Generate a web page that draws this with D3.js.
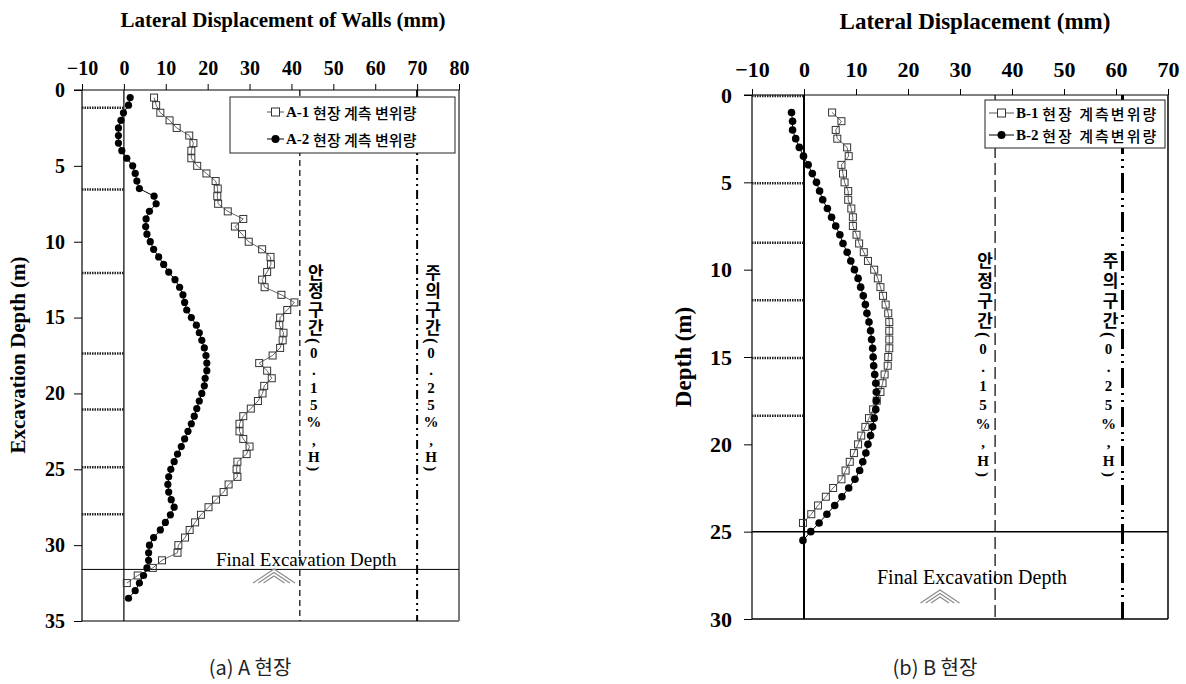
<!DOCTYPE html>
<html>
<head>
<meta charset="utf-8">
<script src="https://cdn.jsdelivr.net/npm/d3@7"></script>
<style>
body { margin: 0; background: #fff; }
svg text { font-family: "Liberation Serif", "Times New Roman", serif; }
</style>
</head>
<body>
<svg id="chart" width="1186" height="684"></svg>
<script>
// ---- site A ----
var depthA1 = [0.5,1.0,1.5,2.0,2.5,3.0,3.5,4.0,4.5,5.0,5.5,6.0,6.5,7.0,7.5,8.0,8.5,9.0,9.5,10.0,
	10.5,11.0,11.5,12.0,12.5,13.0,13.5,14.0,14.5,15.0,15.5,16.0,16.5,17.0,17.5,18.0,18.5,19.0,19.5,20.0,
	20.5,21.0,21.5,22.0,22.5,23.0,23.5,24.0,24.5,25.0,25.5,26.0,26.5,27.0,27.5,28.0,28.5,29.0,29.5,30.0,
	30.5,31.0,31.5,32.0,32.5];
var dispA1 = [7.2,7.7,8.7,10.9,12.6,15.6,16.6,16.1,16.1,17.5,19.7,21.9,22.4,22.3,22.5,24.8,28.5,26.5,28.2,29.8,
	33.0,35.0,35.1,34.2,33.0,33.6,37.6,40.7,39.0,37.3,37.1,38.1,37.9,37.3,35.5,32.3,34.2,35.3,33.5,33.1,
	32.0,30.3,28.5,27.6,27.6,28.5,30.0,29.3,27.1,26.9,27.1,25.0,23.8,22.0,20.2,18.4,17.0,15.7,14.6,13.0,
	12.8,9.1,6.9,3.3,0.7];
var depthA2 = [0.5,1.0,1.5,2.0,2.5,3.0,3.5,4.0,4.5,5.0,5.5,6.0,6.5,7.0,7.5,8.0,8.5,9.0,9.5,10.0,
	10.5,11.0,11.5,12.0,12.5,13.0,13.5,14.0,14.5,15.0,15.5,16.0,16.5,17.0,17.5,18.0,18.5,19.0,19.5,20.0,
	20.5,21.0,21.5,22.0,22.5,23.0,23.5,24.0,24.5,25.0,25.5,26.0,26.5,27.0,27.5,28.0,28.5,29.0,29.5,30.0,
	30.5,31.0,31.5,32.0,32.5,33.0,33.5];
var dispA2 = [1.5,1.1,-0.1,-0.7,-1.3,-1.3,-1.3,-0.5,0.7,2.1,2.7,3.1,3.7,7.2,7.7,6.1,5.3,5.2,5.5,6.3,
	7.1,8.3,9.5,10.7,12.2,13.3,14.1,14.5,15.0,16.1,17.3,18.0,18.6,19.2,19.6,19.8,19.8,19.4,19.2,18.6,
	18.0,17.4,16.8,16.1,15.3,14.5,13.7,12.8,12.0,11.2,10.7,10.5,10.7,11.3,12.0,11.1,9.9,8.7,7.1,6.1,
	5.9,5.9,5.5,4.7,3.7,2.7,1.1];
var strutA = [1.1, 6.5, 12.0, 17.3, 21.0, 24.8, 27.9];
var xTicksA = [-10, 0, 10, 20, 30, 40, 50, 60, 70, 80];
var yTicksA = [0, 5, 10, 15, 20, 25, 30, 35];
var finalDepthA = 31.6;
var limitsA = [42, 70];

// ---- site B ----
var depthB1 = [1.0,1.5,2.0,2.5,3.0,3.5,4.0,4.5,5.0,5.5,6.0,6.5,7.0,7.5,8.0,8.5,9.0,9.5,10.0,10.5,
	11.0,11.5,12.0,12.5,13.0,13.5,14.0,14.5,15.0,15.5,16.0,16.5,17.0,17.5,18.0,18.5,19.0,19.5,20.0,20.5,
	21.0,21.5,22.0,22.5,23.0,23.5,24.0,24.5];
var dispB1 = [5.4,7.2,6.1,6.4,8.3,8.6,7.2,7.5,7.8,8.5,8.5,9.1,9.4,9.4,10.1,10.6,11.5,12.3,13.5,14.2,
	14.7,15.2,15.7,16.2,16.4,16.4,16.4,16.4,16.2,16.1,15.5,15.1,14.7,14.0,13.3,12.5,11.8,11.0,10.4,9.6,
	8.8,8.0,7.2,5.6,4.2,2.7,1.4,-0.2];
var depthB2 = [1.0,1.5,2.0,2.5,3.0,3.5,4.0,4.5,5.0,5.5,6.0,6.5,7.0,7.5,8.0,8.5,9.0,9.5,10.0,10.5,
	11.0,11.5,12.0,12.5,13.0,13.5,14.0,14.5,15.0,15.5,16.0,16.5,17.0,17.5,18.0,18.5,19.0,19.5,20.0,20.5,
	21.0,21.5,22.0,22.5,23.0,23.5,24.0,24.5,25.0,25.5];
var dispB2 = [-2.4,-2.2,-2.2,-1.6,-0.9,-0.1,0.8,1.6,2.4,3.0,3.6,4.5,5.3,6.1,6.9,7.5,8.3,9.0,9.7,10.4,
	10.9,11.4,11.8,12.1,12.5,12.8,13.0,13.2,13.3,13.4,13.6,13.8,13.9,13.9,13.8,13.5,13.2,12.8,12.3,11.9,
	11.3,10.7,9.8,8.6,7.3,5.9,4.4,2.9,1.3,-0.2];
var strutB = [0, 5.0, 8.4, 11.7, 15.0, 18.3];
var xTicksB = [-10, 0, 10, 20, 30, 40, 50, 60, 70];
var yTicksB = [0, 5, 10, 15, 20, 25, 30];
var finalDepthB = 25;
var limitsB = [36.75, 61.25];

var labelSafe = ["안","정","구","간","(","0",".","1","5","%",",","H",")"];
var labelWarn = ["주","의","구","간","(","0",".","2","5","%",",","H",")"];

var svg = d3.select("#chart");
var KR = "'Noto Sans CJK KR', sans-serif";

// vertical label: words + "(" sideways, numbers upright, ")" sideways
function verticalLabel(g, chars, x, top, lsKr, lsNum) {
	var open = chars.indexOf("("), close = chars.indexOf(")");
	var segs = [chars.slice(0, open + 1).join(""), chars.slice(open + 1, close).join(""), chars.slice(close).join("")];
	var y = top;
	segs.forEach(function(s, i) {
		var t = g.append("text")
			.attr("x", x).attr("y", y)
			.style("writing-mode", "vertical-rl")
			.style("text-orientation", i == 1 ? "upright" : "mixed")
			.style("letter-spacing", (i == 0 ? lsKr : lsNum) + "px")
			.style("font-family", "'Liberation Serif', 'Noto Sans CJK KR', serif")
			.style("font-size", i == 0 ? "17px" : "15px")
			.style("font-weight", "bold")
			.text(s);
		y += t.node().getComputedTextLength();
	});
}

function hatch(g, cx, top, bottom) {
	for (var i = 0; i < 3; i++) {
		var a = top + i * 3.5;
		var hw = (bottom - a) * 1.5;
		g.append("path")
			.attr("d", "M" + (cx - hw) + "," + bottom + "L" + cx + "," + a + "L" + (cx + hw) + "," + bottom)
			.attr("fill", "none")
			.attr("stroke", "#8a8a8a")
			.attr("stroke-width", 1.1);
	}
}

function drawPanel(p) {
	var x = d3.scaleLinear().domain(p.xDomain).range([p.left, p.right]);
	var y = d3.scaleLinear().domain(p.yDomain).range([p.top, p.bottom]);
	var g = svg.append("g");

	// axis titles
	g.append("text")
		.attr("x", p.titleX).attr("y", p.titleY)
		.attr("text-anchor", "middle")
		.style("font-size", p.titleSize).style("font-weight", "bold")
		.text(p.title);
	g.append("text")
		.attr("transform", "translate(" + p.yTitleX + "," + p.yTitleY + ") rotate(-90)")
		.attr("text-anchor", "middle")
		.attr("dominant-baseline", "central")
		.style("font-size", p.titleSize).style("font-weight", "bold")
		.text(p.yTitle);

	// frame
	g.append("line")
		.attr("x1", p.right).attr("x2", p.right).attr("y1", p.top).attr("y2", p.bottom)
		.style("stroke", p.frameColor).style("stroke-width", p.frameWidth);
	g.append("line")
		.attr("x1", p.left).attr("x2", p.right).attr("y1", p.bottom).attr("y2", p.bottom)
		.style("stroke", p.frameColor).style("stroke-width", p.frameWidth);

	// axes
	var xAxis = g.append("g").attr("transform", "translate(0," + p.top + ")")
		.call(d3.axisTop(x).tickValues(p.xTicks).tickSize(6).tickSizeOuter(0).tickPadding(p.xPad));
	xAxis.select(".domain").remove();
	xAxis.selectAll("text").style("font-size", p.tickSize).style("font-weight", "bold")
		.style("font-family", "'Liberation Serif', serif").attr("fill", "#000");
	g.append("line")
		.attr("x1", p.left - 8).attr("x2", p.right).attr("y1", p.top).attr("y2", p.top)
		.style("stroke", "#000").style("stroke-width", 1);

	var yAxis = g.append("g").attr("transform", "translate(" + p.left + ",0)")
		.call(d3.axisLeft(y).tickValues(p.yTicks).tickSize(8).tickSizeOuter(0).tickPadding(p.yPad));
	yAxis.select(".domain").remove();
	yAxis.selectAll("text").style("font-size", p.tickSize).style("font-weight", "bold")
		.style("font-family", "'Liberation Serif', serif").attr("fill", "#000");
	g.append("line")
		.attr("x1", p.left).attr("x2", p.left).attr("y1", p.top).attr("y2", p.bottom)
		.style("stroke", "#000").style("stroke-width", 1.2);

	// zero line
	g.append("line")
		.attr("x1", x(0)).attr("x2", x(0)).attr("y1", p.top).attr("y2", p.bottom)
		.style("stroke", "#000").style("stroke-width", p.zeroWidth);

	// struts
	g.selectAll(".strut").data(p.struts).enter().append("line")
		.attr("class", "strut")
		.attr("x1", x(p.xDomain[0])).attr("x2", x(0))
		.attr("y1", function(d) { return y(d) + 1; }).attr("y2", function(d) { return y(d) + 1; })
		.style("stroke", "#222").style("stroke-width", 2.5)
		.style("stroke-dasharray", "1.5,1");

	// final excavation depth
	g.append("line")
		.attr("x1", p.left).attr("x2", p.right)
		.attr("y1", y(p.finalDepth)).attr("y2", y(p.finalDepth))
		.style("stroke", "#000").style("stroke-width", p.finalWidth);
	g.append("text")
		.attr("x", p.finalTextX).attr("y", p.finalTextY)
		.style("font-size", p.finalSize)
		.text("Final Excavation Depth");
	hatch(g, p.hatchX, p.hatchTop, p.hatchBottom);

	// limit lines
	g.append("line")
		.attr("x1", x(p.limits[0])).attr("x2", x(p.limits[0])).attr("y1", p.top).attr("y2", p.bottom)
		.style("stroke", "#000").style("stroke-width", 1.2).style("stroke-dasharray", p.dashSafe);
	g.append("line")
		.attr("x1", x(p.limits[1])).attr("x2", x(p.limits[1])).attr("y1", p.top).attr("y2", p.bottom)
		.style("stroke", "#000").style("stroke-width", p.warnWidth).style("stroke-dasharray", p.dashWarn);

	verticalLabel(g, labelSafe, x(p.limits[0]) + p.safeOffset, p.labelTop, p.lsKr, p.lsNum);
	verticalLabel(g, labelWarn, x(p.limits[1]) + p.warnOffset, p.labelTop, p.lsKr, p.lsNum);

	// legend box
	var lg = g.append("g");
	lg.append("rect")
		.attr("x", p.legend.x).attr("y", p.legend.y)
		.attr("width", p.legend.w).attr("height", p.legend.h)
		.style("fill", "#fff").style("stroke", "#222").style("stroke-width", 1);

	// series
	var line = d3.line()
		.x(function(d) { return x(d[1]); })
		.y(function(d) { return y(d[0]); });
	var s1 = d3.zip(p.depth1, p.disp1);
	var s2 = d3.zip(p.depth2, p.disp2);

	g.append("path").datum(s1).attr("d", line)
		.style("fill", "none").style("stroke", "#555").style("stroke-width", 0.9);
	g.selectAll(".sq").data(s1).enter().append("rect")
		.attr("class", "sq")
		.attr("x", function(d) { return x(d[1]) - p.sq / 2; })
		.attr("y", function(d) { return y(d[0]) - p.sq / 2; })
		.attr("width", p.sq).attr("height", p.sq)
		.style("fill", "none").style("stroke", "#333").style("stroke-width", 1);

	g.append("path").datum(s2).attr("d", line)
		.style("fill", "none").style("stroke", "#000").style("stroke-width", 1);
	g.selectAll(".dot").data(s2).enter().append("circle")
		.attr("class", "dot")
		.attr("cx", function(d) { return x(d[1]); })
		.attr("cy", function(d) { return y(d[0]); })
		.attr("r", p.r)
		.style("fill", "#000");

	// legend entries
	p.legend.names.forEach(function(name, i) {
		var ly = p.legend.y + p.legend.rowY[i];
		var lx = p.legend.x + p.legend.symX;
		lg.append("line")
			.attr("x1", lx).attr("x2", lx + p.legend.symW).attr("y1", ly).attr("y2", ly)
			.style("stroke", i == 0 ? "#555" : "#000").style("stroke-width", 1);
		if (i == 0) {
			lg.append("rect")
				.attr("x", lx + p.legend.symW / 2 - 4).attr("y", ly - 4)
				.attr("width", 8).attr("height", 8)
				.style("fill", "#fff").style("stroke", "#333");
		} else {
			lg.append("circle")
				.attr("cx", lx + p.legend.symW / 2).attr("cy", ly).attr("r", 4)
				.style("fill", "#000");
		}
		var t = lg.append("text")
			.attr("x", lx + p.legend.symW + 2).attr("y", ly)
			.attr("dominant-baseline", "central");
		t.append("tspan").text(name[0] + " ")
			.style("font-size", "15px").style("font-weight", "bold");
		t.append("tspan").text(name[1])
			.style("font-family", KR).style("font-size", "15px").style("font-weight", 500)
			.style("letter-spacing", p.legend.spacing);
	});

	// caption
	svg.append("text")
		.attr("x", p.captionX).attr("y", 666)
		.attr("text-anchor", "middle")
		.attr("dominant-baseline", "central")
		.style("font-family", KR).style("font-size", "20px")
		.style("fill", "#222")
		.text(p.caption);
}

drawPanel({
	left: 82, right: 459, top: 90, bottom: 621,
	xDomain: [-10, 80], yDomain: [0, 35],
	xTicks: xTicksA, yTicks: yTicksA, tickSize: "20px", xPad: 9, yPad: 9,
	title: "Lateral Displacement of Walls (mm)", titleX: 283, titleY: 27, titleSize: "21px",
	yTitle: "Excavation Depth (m)", yTitleX: 18, yTitleY: 355,
	frameColor: "#7a7a7a", frameWidth: 2, zeroWidth: 1.2,
	struts: strutA,
	finalDepth: finalDepthA, finalWidth: 1, finalTextX: 216, finalTextY: 566, finalSize: "19px",
	hatchX: 274, hatchTop: 569, hatchBottom: 583,
	limits: limitsA, dashSafe: "6,4", dashWarn: "9,4,2,4,2,4", warnWidth: 2,
	safeOffset: 14, warnOffset: 14, labelTop: 264, lsKr: 1.5, lsNum: 1.3,
	depth1: depthA1, disp1: dispA1, depth2: depthA2, disp2: dispA2,
	sq: 7, r: 3.6,
	legend: { x: 230, y: 97, w: 225, h: 56, rowY: [15, 42], symX: 37, symW: 17, spacing: "0px",
		names: [["A-1", "현장 계측 변위량"], ["A-2", "현장 계측 변위량"]] },
	caption: "(a) A 현장", captionX: 250
});

drawPanel({
	left: 752, right: 1168, top: 95, bottom: 619,
	xDomain: [-10, 70], yDomain: [0, 30],
	xTicks: xTicksB, yTicks: yTicksB, tickSize: "22px", xPad: 12, yPad: 12,
	title: "Lateral Displacement (mm)", titleX: 975, titleY: 29, titleSize: "23px",
	yTitle: "Depth (m)", yTitleX: 683, yTitleY: 357,
	frameColor: "#000", frameWidth: 1.5, zeroWidth: 2,
	struts: strutB,
	finalDepth: finalDepthB, finalWidth: 1.5, finalTextX: 877, finalTextY: 584, finalSize: "20px",
	hatchX: 940, hatchTop: 590, hatchBottom: 603,
	limits: limitsB, dashSafe: "12,5", dashWarn: "20,5,2,5,2,5", warnWidth: 3,
	safeOffset: -12, warnOffset: -14, labelTop: 252, lsKr: 3, lsNum: 2.75,
	depth1: depthB1, disp1: dispB1, depth2: depthB2, disp2: dispB2,
	sq: 7, r: 3.8,
	legend: { x: 985, y: 100, w: 180, h: 48, rowY: [13, 35], symX: 4, symW: 25, spacing: "2px",
		names: [["B-1", "현장 계측변위량"], ["B-2", "현장 계측변위량"]] },
	caption: "(b) B 현장", captionX: 935
});
</script>
</body>
</html>
